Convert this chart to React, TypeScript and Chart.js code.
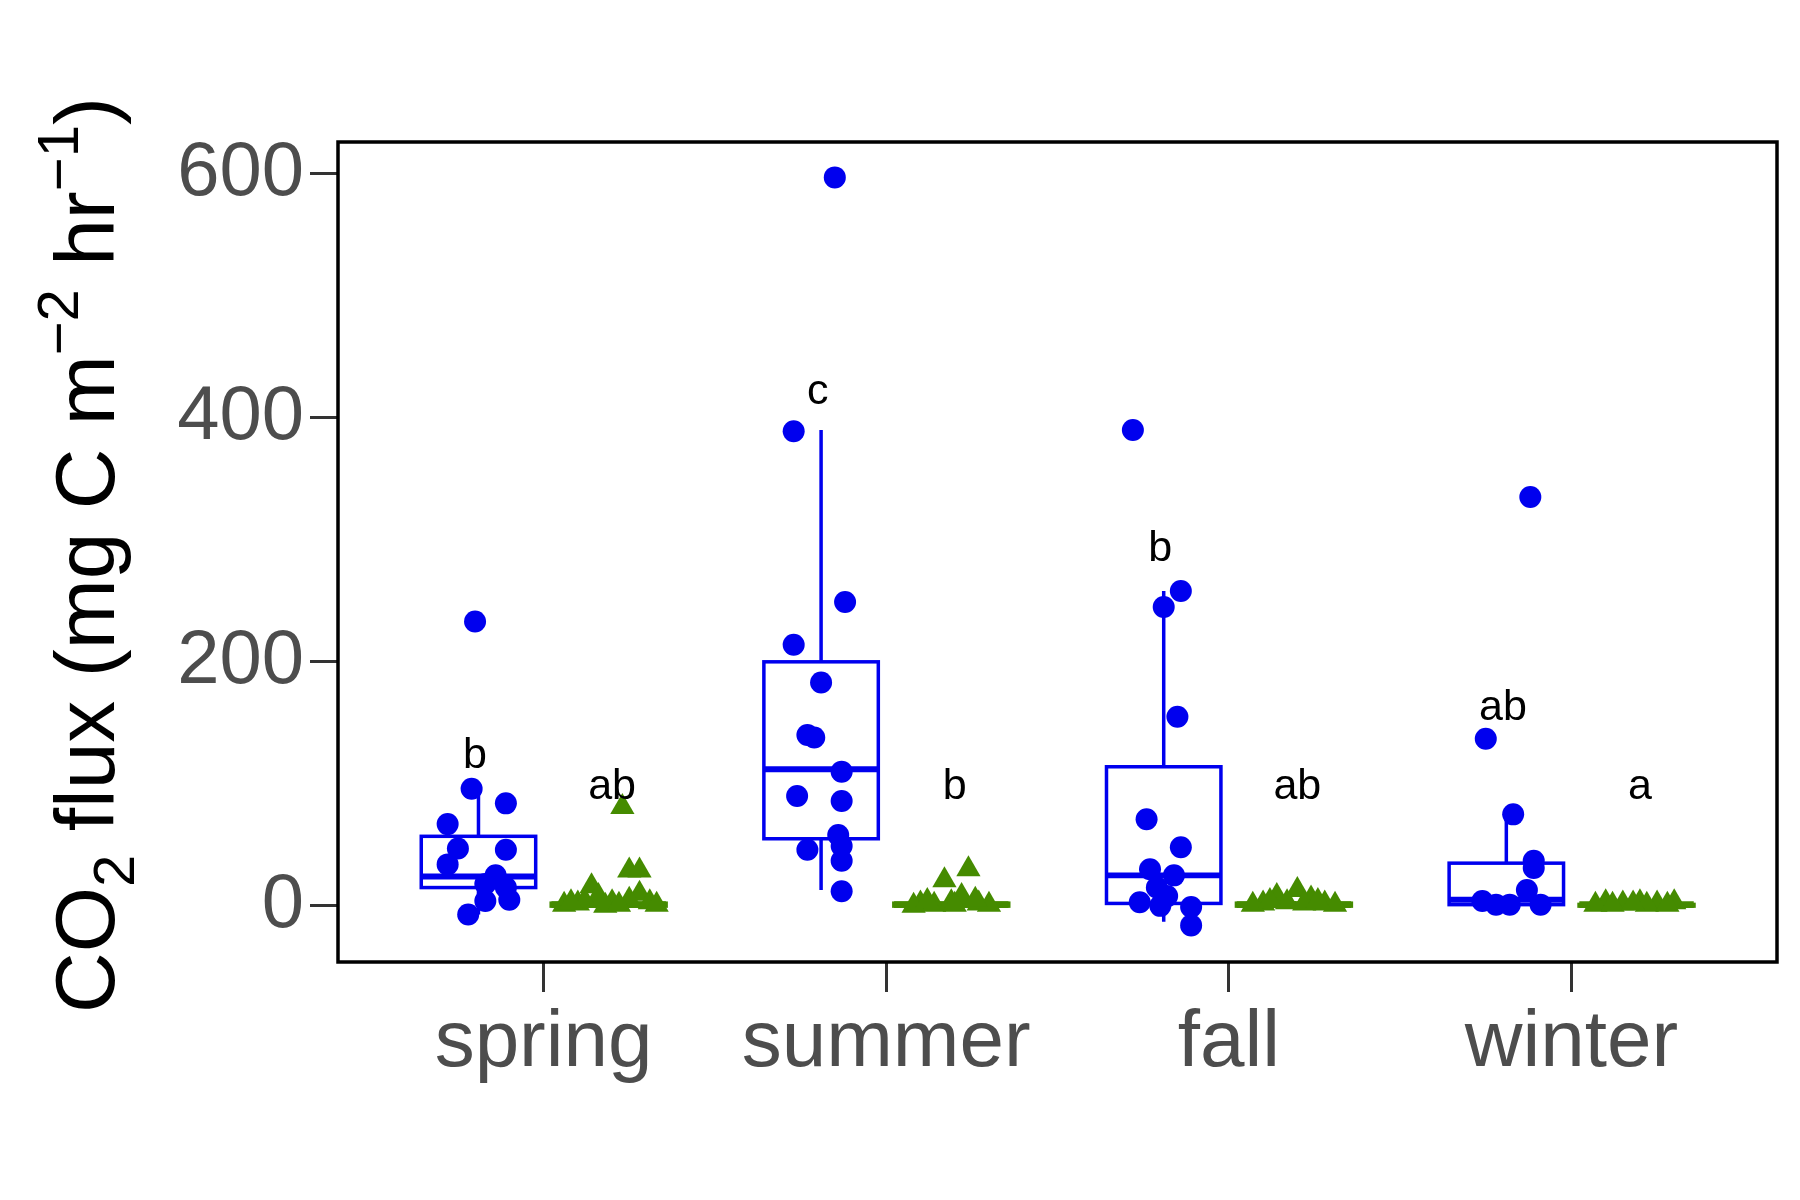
import React, { useEffect, useRef } from 'react';
import { Chart, registerables } from 'chart.js';

Chart.register(...registerables);

const seasons = ['spring', 'summer', 'fall', 'winter'];
const yTicks = [0, 200, 400, 600];

// box stats per season: [whiskerLow, q1, median, q3, whiskerHigh]
const blueBoxes = [
  [-7, 15, 24, 57, 96],
  [13, 55, 112, 200, 390],
  [-13, 2, 25, 114, 258],
  [0, 1, 5, 35, 74],
];
const greenBoxes = [
  [0, 0, 1, 2, 4],
  [0, 0, 1, 2, 4],
  [0, 0, 1, 2, 4],
  [0, 0, 1, 1, 3],
];

// jittered points: [offset from season centre, value]
const bluePoints = [
  [[-0.2, 233], [-0.21, 96], [-0.11, 84], [-0.28, 67], [-0.25, 47], [-0.11, 46], [-0.28, 34], [-0.14, 25], [-0.17, 18], [-0.11, 15], [-0.17, 4], [-0.1, 5], [-0.22, -7]],
  [[-0.15, 597], [-0.27, 389], [-0.12, 249], [-0.27, 214], [-0.19, 183], [-0.23, 140], [-0.21, 138], [-0.13, 110], [-0.26, 90], [-0.13, 86], [-0.14, 58], [-0.13, 49], [-0.23, 46], [-0.13, 37], [-0.13, 12]],
  [[-0.28, 390], [-0.14, 258], [-0.19, 245], [-0.15, 155], [-0.24, 71], [-0.14, 48], [-0.23, 30], [-0.16, 25], [-0.21, 15], [-0.18, 8], [-0.26, 3], [-0.2, 0], [-0.11, -1], [-0.11, -16]],
  [[-0.12, 335], [-0.25, 137], [-0.17, 75], [-0.11, 37], [-0.11, 31], [-0.13, 13], [-0.26, 4], [-0.22, 1], [-0.18, 1], [-0.09, 1]],
];
const greenPoints = [
  [[0.23, 81], [0.25, 29], [0.28, 29], [0.14, 16], [0.16, 8], [0.28, 10], [0.06, 1], [0.1, 2], [0.2, 3], [0.31, 3], [0.12, 4], [0.25, 5], [0.33, 1], [0.18, 0], [0.08, 3], [0.22, 1]],
  [[0.24, 30], [0.17, 21], [0.22, 8], [0.1, 2], [0.14, 1], [0.19, 3], [0.27, 2], [0.3, 1], [0.08, 0], [0.12, 4], [0.2, 1], [0.26, 5]],
  [[0.2, 13], [0.14, 8], [0.24, 6], [0.1, 2], [0.17, 3], [0.28, 2], [0.31, 1], [0.07, 1], [0.12, 4], [0.22, 2], [0.26, 4]],
  [[0.1, 3], [0.15, 2], [0.2, 3], [0.25, 2], [0.3, 3], [0.07, 1], [0.22, 1], [0.12, 1], [0.18, 2], [0.28, 1]],
];

// significance letters: [x position, value, text]
const letters: [number, number, string][] = [
  [0.8, 123, 'b'], [1.2, 97, 'ab'],
  [1.8, 421, 'c'], [2.2, 97, 'b'],
  [2.8, 292, 'b'], [3.2, 97, 'ab'],
  [3.8, 162, 'ab'], [4.2, 97, 'a'],
];

const BOX_OFFSET = 0.19;
const BOX_HALF = 0.167;

const toPts = (groups: number[][][]) =>
  groups.flatMap((g, i) => g.map(([dx, y]) => ({ x: i + 1 + dx, y })));

const boxPlugin = {
  id: 'boxes',
  beforeDatasetsDraw(chart: any) {
    const { ctx, scales } = chart;
    const x = scales.x, y = scales.y;
    const draw = (boxes: number[][], off: number, color: string, lw: number) => {
      boxes.forEach((b, i) => {
        const c = i + 1 + off;
        const l = x.getPixelForValue(c - BOX_HALF), r = x.getPixelForValue(c + BOX_HALF);
        const cx = x.getPixelForValue(c);
        const [wl, q1, md, q3, wh] = b.map((v) => y.getPixelForValue(v));
        ctx.save();
        ctx.strokeStyle = color;
        ctx.lineWidth = lw;
        ctx.beginPath();
        ctx.moveTo(cx, q3); ctx.lineTo(cx, wh);
        ctx.moveTo(cx, q1); ctx.lineTo(cx, wl);
        ctx.stroke();
        ctx.strokeRect(l, q3, r - l, q1 - q3);
        ctx.lineWidth = lw * 1.7;
        ctx.beginPath();
        ctx.moveTo(l, md); ctx.lineTo(r, md);
        ctx.stroke();
        ctx.restore();
      });
    };
    draw(blueBoxes, -BOX_OFFSET, '#0000ee', 3.5);
    draw(greenBoxes, BOX_OFFSET, '#458b00', 4);
  },
  afterDatasetsDraw(chart: any) {
    const { ctx, scales, chartArea } = chart;
    ctx.save();
    ctx.fillStyle = '#000';
    ctx.font = '43px "Liberation Sans", Arial, sans-serif';
    ctx.textAlign = 'center';
    ctx.textBaseline = 'middle';
    letters.forEach(([lx, ly, t]) => {
      ctx.fillText(t, scales.x.getPixelForValue(lx), scales.y.getPixelForValue(ly));
    });
    ctx.strokeStyle = '#000';
    ctx.lineWidth = 3.5;
    ctx.strokeRect(chartArea.left, chartArea.top, chartArea.right - chartArea.left, chartArea.bottom - chartArea.top);
    // y axis title with sub/superscripts
    ctx.translate(84, 555);
    ctx.rotate(-Math.PI / 2);
    ctx.textAlign = 'left';
    ctx.textBaseline = 'alphabetic';
    const big = '84px "Liberation Sans", Arial, sans-serif';
    const small = '58px "Liberation Sans", Arial, sans-serif';
    const parts: [string, string, number][] = [
      ['CO', big, 0], ['2', small, 20], [' flux (mg C m', big, 0], ['\u22122', small, -36],
      [' hr', big, 0], ['\u22121', small, -36], [')', big, 0],
    ];
    let w = 0;
    parts.forEach(([s, f]) => { ctx.font = f; w += ctx.measureText(s).width; });
    let px = -w / 2;
    parts.forEach(([s, f, dy]) => {
      ctx.font = f;
      ctx.fillText(s, px, 30 + dy);
      px += ctx.measureText(s).width;
    });
    ctx.restore();
  },
};

export default function App() {
  const canvasRef = useRef<HTMLCanvasElement | null>(null);

  useEffect(() => {
    document.body.style.margin = '0';
    if (!canvasRef.current) return;
    const chart = new Chart(canvasRef.current, {
      type: 'scatter',
      data: {
        datasets: [
          {
            data: toPts(bluePoints),
            pointStyle: 'circle',
            pointRadius: 11,
            backgroundColor: '#0000ee',
            borderColor: '#0000ee',
            borderWidth: 0,
          },
          {
            data: toPts(greenPoints),
            pointStyle: 'triangle',
            pointRadius: 14,
            backgroundColor: '#458b00',
            borderColor: '#458b00',
            borderWidth: 0,
          },
        ],
      },
      options: {
        responsive: false,
        animation: false,
        layout: { padding: { top: 142, right: 23, left: 0, bottom: 0 } },
        plugins: { legend: { display: false }, tooltip: { enabled: false } },
        scales: {
          x: {
            type: 'linear',
            min: 0.4,
            max: 4.6,
            afterBuildTicks: (s: any) => { s.ticks = [1, 2, 3, 4].map((v) => ({ value: v })); },
            afterFit: (s: any) => { s.height = 238; },
            ticks: {
              callback: (v: any) => seasons[Number(v) - 1],
              color: '#4d4d4d',
              font: { size: 80, family: '"Liberation Sans", Arial, sans-serif' },
              padding: 4,
              maxRotation: 0,
            },
            grid: { drawOnChartArea: false, tickLength: 30, tickColor: '#333', tickWidth: 3 },
            border: { display: false },
          },
          y: {
            min: -46,
            max: 626,
            afterBuildTicks: (s: any) => { s.ticks = yTicks.map((v) => ({ value: v })); },
            afterFit: (s: any) => { s.width = 338; },
            ticks: {
              color: '#4d4d4d',
              font: { size: 76, family: '"Liberation Sans", Arial, sans-serif' },
              padding: 6,
            },
            grid: { drawOnChartArea: false, tickLength: 28, tickColor: '#333', tickWidth: 3 },
            border: { display: false },
          },
        },
      },
      plugins: [boxPlugin],
    });
    return () => chart.destroy();
  }, []);

  return <canvas ref={canvasRef} width={1800} height={1200} style={{ display: 'block' }} />;
}
